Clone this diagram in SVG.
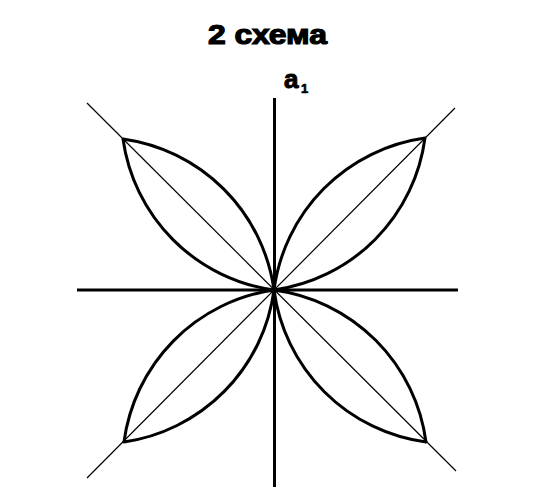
<svg xmlns="http://www.w3.org/2000/svg" width="533" height="503" viewBox="0 0 533 503">
<style>
.axis{stroke:#000;stroke-width:3;fill:none}
.diag{stroke:#000;stroke-width:1.2;fill:none}
.petal{stroke:#000;stroke-width:3;fill:none;stroke-linejoin:round}
.t{font-family:"Liberation Sans",Arial,sans-serif;font-weight:bold;fill:#000;stroke:#000}
</style>
<rect width="533" height="503" fill="#fff"/>
<g id="title"><text class="t" x="208" y="44" font-size="27" stroke-width="1.2" textLength="119" lengthAdjust="spacingAndGlyphs">2 схема</text></g>
<g id="label"><text class="t" x="284" y="88" font-size="26" stroke-width="1">a</text><text class="t" x="301" y="93" font-size="13" stroke-width="0.6">1</text></g>
<g id="connectors">
<line class="axis" x1="77" y1="290" x2="458" y2="290"/>
<line class="axis" x1="274.5" y1="98" x2="274.5" y2="487"/>
<line class="diag" x1="87" y1="103" x2="456" y2="471"/>
<line class="diag" x1="455" y1="108" x2="87" y2="478"/>
</g>
<g id="petal-ul"><path class="petal" d="M123,139 A177,177 0 0 1 274,290 A177,177 0 0 1 123,139 Z"/></g>
<g id="petal-ur"><path class="petal" d="M425,138 A177,177 0 0 1 274,290 A177,177 0 0 1 425,138 Z"/></g>
<g id="petal-ll"><path class="petal" d="M124,442 A177,177 0 0 1 274,290 A177,177 0 0 1 124,442 Z"/></g>
<g id="petal-lr"><path class="petal" d="M426,442 A177,177 0 0 1 274,290 A177,177 0 0 1 426,442 Z"/></g>
</svg>
